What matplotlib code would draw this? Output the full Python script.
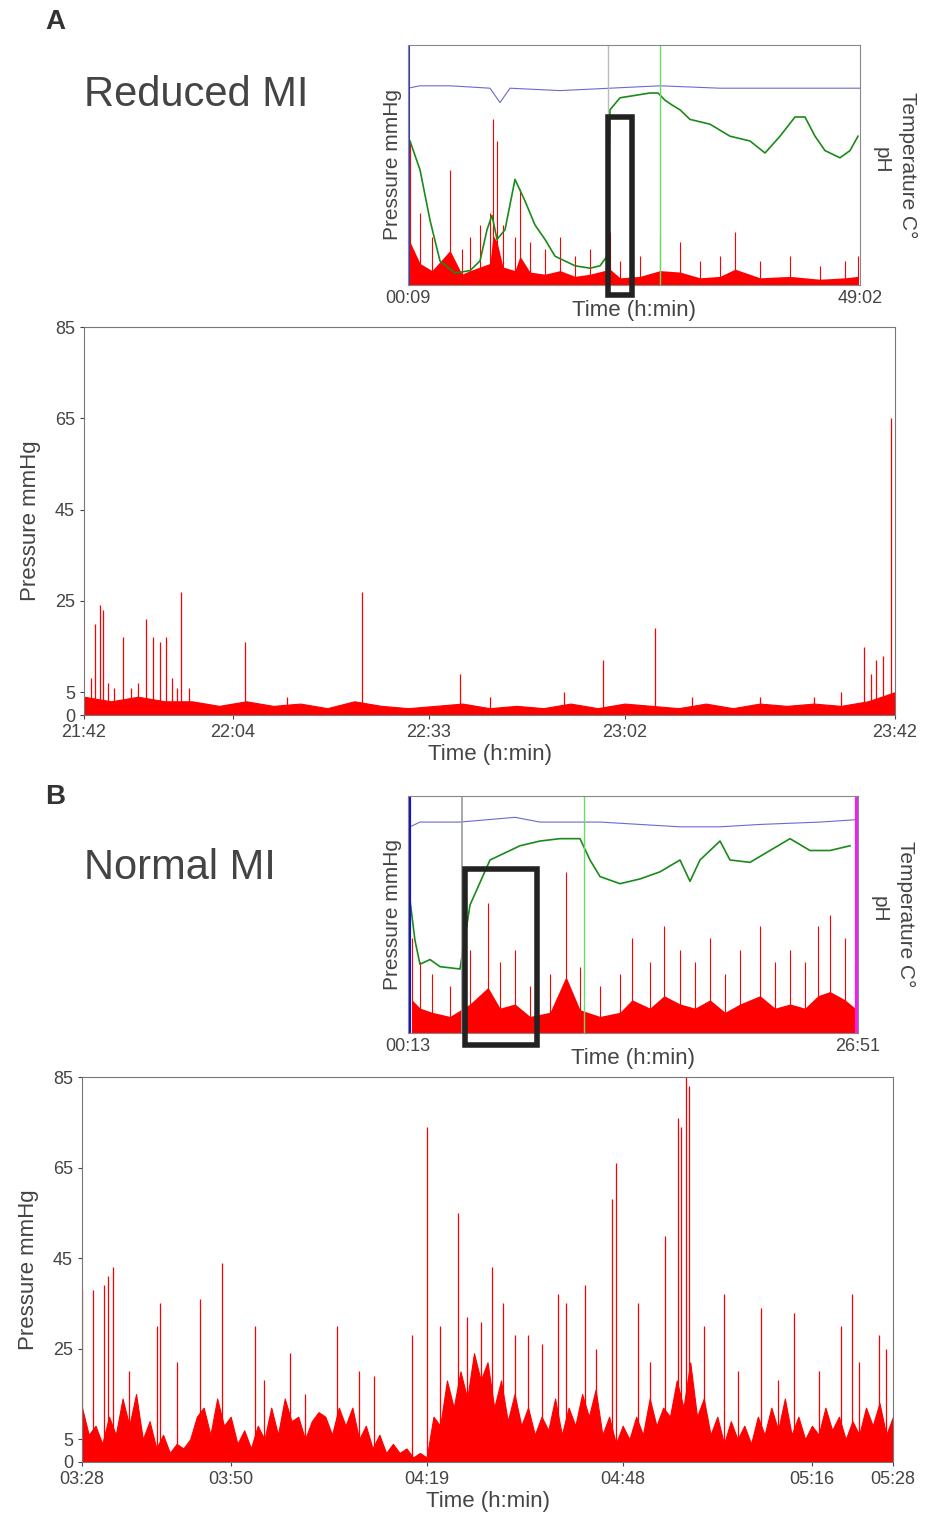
import matplotlib
matplotlib.use("Agg")
import matplotlib.pyplot as plt
from matplotlib.patches import Rectangle
import numpy as np

plt.rcParams['font.family'] = ['Liberation Sans', 'DejaVu Sans']

# ---------------- data ----------------
a_tick_pos = [0, 22, 51, 80, 120]
a_tick_lab = ["21:42", "22:04", "22:33", "23:02", "23:42"]
a_spike_t = [1.6, 2.4, 2.8, 5.8, 9.2, 10.2, 11.2, 12.1, 14.3, 23.8, 41.1, 55.6, 76.8, 84.5, 115.4, 117.2, 119.4,
             1.0, 3.5, 4.5, 7.0, 8.0, 13.0, 13.8, 15.5, 30.0, 60.0, 71.0, 90.0, 100.0, 108.0, 112.0, 116.5, 118.2]
a_spike_h = [20, 24, 23, 17, 21, 17, 16, 17, 27, 16, 27, 9, 12, 19, 15, 12, 65,
             8, 7, 6, 6, 7, 8, 6, 6, 4, 4, 5, 4, 4, 4, 5, 9, 13]
a_base_t = [0, 4, 8, 12, 16, 20, 24, 28, 32, 36, 40, 44, 48, 52, 56, 60, 64, 68, 72, 76, 80, 84, 88, 92, 96,
            100, 104, 108, 112, 116, 120]
a_base_h = [4, 3, 4, 3, 3, 2, 3, 2, 2.5, 1.5, 3, 2, 1.5, 2, 2.5, 1.5, 2, 1.5, 2.5, 1.5, 2.5, 2, 1.5, 2.5, 1.5,
            2.5, 2, 2.5, 2, 3, 5]

b_tick_pos = [0, 22, 51, 80, 108, 120]
b_tick_lab = ["03:28", "03:50", "04:19", "04:48", "05:16", "05:28"]
b_spike_t = [0, 1.6, 3.3, 3.8, 4.6, 11.1, 11.5, 17.5, 20.7, 25.6, 30.8, 37.7, 43.2, 48.9, 51.0, 55.6, 59.0,
             60.6, 62.3, 66.0, 70.4, 71.6, 74.4, 78.4, 79.0, 82.2, 86.2, 88.2, 88.7, 89.4, 89.8, 95.0, 100.4,
             105.3, 112.3, 113.9, 117.9, 7.0, 14.0, 27.0, 33.0, 41.0, 53.0, 57.0, 64.0, 68.0, 76.0, 84.0,
             92.0, 97.0, 103.0, 109.0, 115.0, 119.0]
b_spike_h = [38, 38, 39, 41, 43, 30, 35, 36, 44, 30, 24, 30, 19, 28, 74, 55, 31, 43, 35, 28, 37, 35, 39, 58,
             66, 35, 50, 76, 74, 85, 83, 37, 34, 33, 30, 37, 28, 20, 22, 18, 15, 20, 30, 32, 28, 26, 25, 22,
             30, 20, 18, 20, 22, 25]
b_base_t = list(range(0, 121))
b_base_h = [12, 6, 8, 4, 10, 6, 14, 8, 15, 5, 9, 3, 6, 2, 4, 3, 5, 10, 12, 6, 14, 8, 10, 4, 7, 3, 8, 5, 12,
            6, 14, 9, 10, 5, 9, 11, 10, 6, 12, 8, 12, 5, 8, 3, 6, 2, 4, 2, 3, 1, 2, 1, 10, 8, 18, 12, 20, 14,
            24, 18, 22, 12, 18, 9, 15, 8, 12, 6, 10, 7, 14, 6, 12, 8, 15, 10, 16, 6, 10, 4, 8, 5, 10, 6, 14,
            8, 12, 10, 18, 12, 22, 10, 14, 6, 10, 4, 9, 5, 8, 4, 10, 6, 12, 7, 14, 6, 10, 5, 8, 6, 12, 7, 10,
            5, 9, 6, 12, 8, 13, 6, 10]

ia_green_x = [410, 420, 430, 440, 455, 470, 480, 487, 492, 497, 505, 515, 525, 535, 545, 555, 565, 575, 590,
              600, 607, 610, 620, 635, 650, 658, 665, 672, 680, 690, 710, 730, 750, 765, 780, 795, 805, 815,
              825, 840, 850, 858]
ia_green_y = [60, 48, 27, 10, 5, 6, 10, 23, 29, 19, 23, 44, 35, 25, 19, 12, 10, 8, 7, 8, 12, 73, 78, 79, 80,
              80, 77, 75, 73, 69, 67, 62, 60, 55, 62, 70, 70, 62, 56, 53, 56, 62]
ia_blue_x = [408, 420, 450, 490, 500, 510, 560, 610, 660, 720, 780, 860]
ia_blue_y = [82, 83, 83, 82, 76, 82, 81, 82, 83, 82, 82, 82]
ia_red_x = [410, 420, 432, 450, 462, 470, 480, 490, 493, 497, 503, 515, 520, 530, 545, 560, 575, 590, 610,
            620, 640, 660, 680, 700, 720, 735, 760, 790, 820, 845, 858]
ia_red_y = [60, 30, 20, 48, 15, 20, 25, 30, 69, 60, 25, 20, 40, 18, 15, 20, 12, 15, 22, 10, 12, 20, 18, 10,
            12, 22, 10, 12, 8, 10, 12]

ib_green_x = [410, 415, 420, 430, 440, 460, 470, 490, 500, 520, 540, 560, 580, 590, 600, 620, 640, 660, 680,
              690, 700, 710, 720, 730, 750, 770, 790, 810, 830, 850]
ib_green_y = [56, 39, 29, 31, 28, 27, 54, 73, 75, 79, 81, 82, 82, 73, 66, 63, 65, 68, 73, 64, 73, 77, 81,
              73, 72, 77, 82, 77, 77, 79]
ib_blue_x = [410, 420, 460, 515, 540, 600, 680, 720, 760, 820, 856]
ib_blue_y = [87, 89, 89, 91, 89, 89, 87, 87, 88, 89, 90]
ib_red_x = [412, 420, 432, 450, 470, 488, 500, 515, 530, 550, 566, 580, 600, 620, 632, 650, 664, 680, 695,
            710, 725, 740, 760, 775, 790, 805, 818, 830, 845, 855]
ib_red_y = [40, 30, 25, 20, 35, 55, 30, 35, 20, 25, 68, 28, 20, 25, 40, 30, 45, 35, 30, 40, 25, 35, 45, 30,
            35, 30, 45, 50, 40, 30]

# ---------------- drawing ----------------
W, H = 926, 1520
fig = plt.figure(figsize=(W / 100, H / 100), dpi=100)


def ax_px(x0, y0, x1, y1):
    return fig.add_axes([x0 / W, 1 - y1 / H, (x1 - x0) / W, (y1 - y0) / H])


grey = "#444444"


def main_panel(ax, bt, bh, st, sh, tpos, tlab):
    ax.fill_between(bt, 0, bh, color="red", lw=0.8)
    ax.vlines(st, 0, sh, color="red", lw=0.9)
    ax.set_xlim(0, 120)
    ax.set_ylim(0, 85)
    ax.set_yticks([0, 5, 25, 45, 65, 85])
    ax.set_xticks(tpos)
    ax.set_xticklabels(tlab)
    ax.tick_params(labelsize=13, colors=grey, length=3)
    ax.set_ylabel("Pressure mmHg", fontsize=16, color=grey, labelpad=10)
    ax.set_xlabel("Time (h:min)", fontsize=16, color=grey, labelpad=2)
    for s in ax.spines.values():
        s.set_color("#777777")


def inset(ax, gx, gy, bx, by, rx, ry, lab0, lab1, x_lo, x_hi, extra_v, box, floor):
    f = lambda xs: [(x - x_lo) / (x_hi - x_lo) for x in xs]
    ax.vlines(f(rx), 0, ry, color="red", lw=0.8)
    ax.fill_between(f(rx), 0, [r * floor for r in ry], color="red", lw=0)
    ax.plot(f(gx), gy, color="#1a8a1a", lw=1.2)
    ax.plot(f(bx), by, color="#6a6ad0", lw=0.8)
    for xv, c, lw in extra_v:
        ax.axvline((xv - x_lo) / (x_hi - x_lo), color=c, lw=lw)
    ax.set_xlim(0, 1)
    ax.set_ylim(0, 100)
    ax.set_xticks([0, 1])
    ax.set_xticklabels([lab0, lab1])
    ax.set_yticks([])
    ax.tick_params(labelsize=13, colors=grey, length=0)
    ax.set_xlabel("Time (h:min)", fontsize=16, color=grey, labelpad=-5)
    ax.set_ylabel("Pressure mmHg", fontsize=15, color=grey)
    ax.text(1.025, 0.52, "pH", transform=ax.transAxes, rotation=270, fontsize=15, color=grey, va="center")
    ax.text(1.085, 0.5, "Temperature C°", transform=ax.transAxes, rotation=270, fontsize=15, color=grey,
            va="center")
    for s in ax.spines.values():
        s.set_color("#888888")
    bx0, by0, bx1, by1 = box
    ax.add_patch(Rectangle(((bx0 - x_lo) / (x_hi - x_lo), by0), (bx1 - bx0) / (x_hi - x_lo), by1 - by0,
                           fill=False, ec="#222222", lw=4, clip_on=False, zorder=5))


axA = ax_px(408, 45, 860, 285)
inset(axA, ia_green_x, ia_green_y, ia_blue_x, ia_blue_y, ia_red_x, ia_red_y, "00:09", "49:02", 408, 860,
      [(608, "#bbbbbb", 1.0), (660, "#66dd66", 1.0), (409, "#3333cc", 1.5)], (608, -4, 632, 70), 0.3)
axMA = ax_px(84, 327, 895, 715)
main_panel(axMA, a_base_t, a_base_h, a_spike_t, a_spike_h, a_tick_pos, a_tick_lab)

axB = ax_px(408, 796, 858, 1033)
inset(axB, ib_green_x, ib_green_y, ib_blue_x, ib_blue_y, ib_red_x, ib_red_y, "00:13", "26:51", 408, 858,
      [(462, "#999999", 1.2), (584, "#66dd66", 1.0), (409, "#1111cc", 3), (857, "#ee22ee", 3)],
      (465, -5, 537, 69), 0.35)
axMB = ax_px(82, 1077, 893, 1462)
main_panel(axMB, b_base_t, b_base_h, b_spike_t, b_spike_h, b_tick_pos, b_tick_lab)

fig.text(45 / W, 1 - 22 / H, "A", fontsize=20, fontweight="bold", color="#333333", va="center")
fig.text(45 / W, 1 - 797 / H, "B", fontsize=20, fontweight="bold", color="#333333", va="center")
fig.text(84 / W, 1 - 95 / H, "Reduced MI", fontsize=30, color="#444444", va="center")
fig.text(84 / W, 1 - 868 / H, "Normal MI", fontsize=30, color="#444444", va="center")

fig.savefig("out.png", dpi=100)
